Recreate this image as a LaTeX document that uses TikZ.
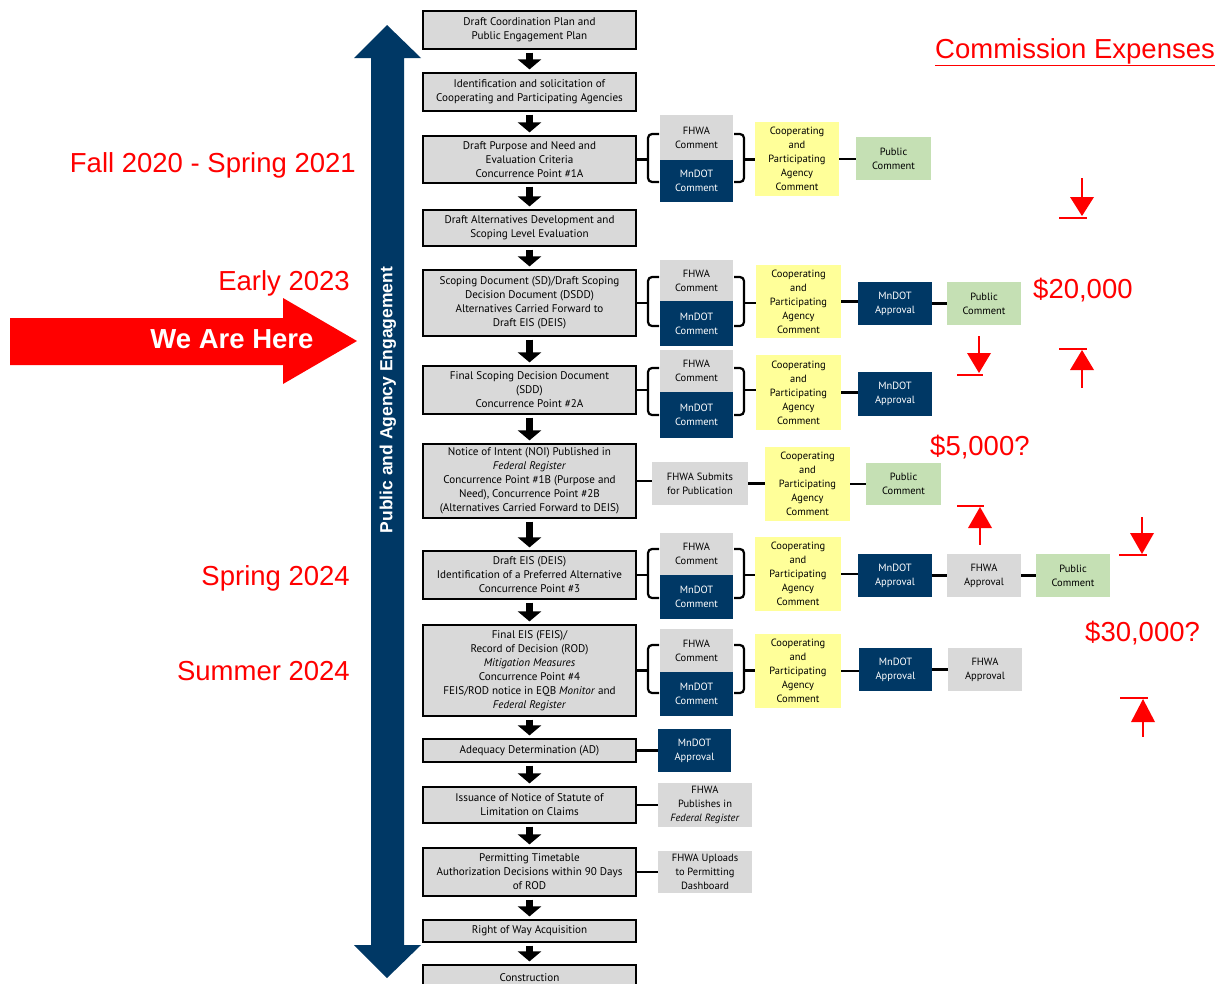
\documentclass[tikz,border=0pt]{standalone}
\usepackage{fontspec}
\setmainfont{Liberation Sans}
\newfontfamily\gfont{PT Sans}
\usetikzlibrary{arrows.meta}
\definecolor{navy}{HTML}{003865}
\definecolor{lgray}{HTML}{D9D9D9}
\definecolor{yel}{HTML}{FFFF99}
\definecolor{grn}{HTML}{C5E0B4}
\definecolor{mred}{HTML}{FF0000}
\newcommand{\rect}[7]{%
  \pgfmathsetmacro\rw{#5-#3}\pgfmathsetmacro\rh{#6-#4}%
  \pgfmathsetmacro\rx{(#3+#5)/2}\pgfmathsetmacro\ry{(#4+#6)/2}%
  \node[#1, minimum width=\rw pt, minimum height=\rh pt] (#2) at (\rx,\ry) {#7};}
\newcommand{\brackets}[2]{%
  \draw[brk] (659,#1) -- (648,#1) -- (648,#2) -- (659,#2);
  \draw[brk] (734,#1) -- (744,#1) -- (744,#2) -- (734,#2);}
\tikzset{
  boxfont/.style={font=\gfont\fontsize{10.5}{14}\selectfont},
  mainfont/.style={font=\gfont\fontsize{11.1}{14}\selectfont},
  mainbox/.style={draw=black, line width=1.2pt, fill=lgray, align=center, inner sep=0pt, mainfont},
  gbox/.style={fill=lgray, align=center, inner sep=0pt, boxfont},
  nbox/.style={fill=navy, text=white, align=center, inner sep=0pt, boxfont},
  ybox/.style={fill=yel, align=center, inner sep=0pt, boxfont},
  grbox/.style={fill=grn, align=center, inner sep=0pt, boxfont},
  conn/.style={line width=2.2pt, black},
  brk/.style={conn, rounded corners=4pt},
  darr/.style={line width=7pt, -{Triangle[width=23pt,length=10pt]}, shorten <=3pt, shorten >=3pt},
  redlab/.style={text=mred, font=\fontsize{27.5}{30}\selectfont, inner sep=0pt},
  redln/.style={mred, line width=1.8pt},
}
\begin{document}
\begin{tikzpicture}[x=1pt, y=-1pt]
\useasboundingbox (0,0) rectangle (1228,983);
\clip (0,0) rectangle (1228,983);
\fill[white] (0,0) rectangle (1228,983);

% big navy double arrow
\fill[navy] (371,58) -- (354,58) -- (387,25) -- (421,58) -- (404,58) -- (404,945) -- (421,945) -- (387,978) -- (354,945) -- (371,945) -- cycle;
\node[rotate=90, text=white, font=\bfseries\fontsize{17.5}{20}\selectfont, inner sep=0pt] (pae) at (388,400) {Public and Agency Engagement};

% We Are Here arrow
\fill[mred] (10,318) -- (283,318) -- (283,298) -- (357,341) -- (283,384) -- (283,365) -- (10,365) -- cycle;
\node[text=white, font=\bfseries\fontsize{27.5}{30}\selectfont, inner sep=0pt, anchor=base] (here) at (232,348) {We Are Here};

% dates
\node[redlab, anchor=base east] (d1) at (356,172) {Fall 2020 - Spring 2021};
\node[redlab, anchor=base east] (d2) at (350,290) {Early 2023};
\node[redlab, anchor=base east] (d3) at (350,585) {Spring 2024};
\node[redlab, anchor=base east] (d4) at (350,680) {Summer 2024};
\node[redlab, anchor=base west] (ce) at (935,58) {\underline{Commission Expenses}};
\node[redlab, anchor=base west] (c1) at (1033,298) {\$20,000};
\node[redlab, anchor=base west] (c2) at (930,455) {\$5,000?};
\node[redlab, anchor=base west] (c3) at (1085,641) {\$30,000?};

% main column
\rect{mainbox}{m1}{423}{11}{636}{49}{Draft Coordination Plan and\\Public Engagement Plan}
\rect{mainbox}{m2}{423}{73}{636}{111}{Identification and solicitation of\\Cooperating and Participating Agencies}
\rect{mainbox}{m3}{423}{136}{636}{183}{Draft Purpose and Need and\\Evaluation Criteria\\Concurrence Point \#1A}
\rect{mainbox}{m4}{423}{210}{636}{246}{Draft Alternatives Development and\\Scoping Level Evaluation}
\rect{mainbox}{m5}{423}{270}{636}{336}{Scoping Document (SD)/Draft Scoping\\Decision Document (DSDD)\\Alternatives Carried Forward to\\Draft EIS (DEIS)}
\rect{mainbox}{m6}{423}{366}{636}{414}{Final Scoping Decision Document\\(SDD)\\Concurrence Point \#2A}
\rect{mainbox}{m7}{423}{444}{636}{518}{Notice of Intent (NOI) Published in\\\textit{Federal Register}\\Concurrence Point \#1B (Purpose and\\Need), Concurrence Point \#2B\\(Alternatives Carried Forward to DEIS)}
\rect{mainbox}{m8}{423}{551}{636}{599}{Draft EIS (DEIS)\\Identification of a Preferred Alternative\\Concurrence Point \#3}
\rect{mainbox}{m9}{423}{625}{636}{716}{Final EIS (FEIS)/\\Record of Decision (ROD)\\\textit{Mitigation Measures}\\Concurrence Point \#4\\FEIS/ROD notice in EQB \textit{Monitor} and\\\textit{Federal Register}}
\rect{mainbox}{m10}{423}{739}{636}{762}{Adequacy Determination (AD)}
\rect{mainbox}{m11}{423}{787}{636}{823}{Issuance of Notice of Statute of\\Limitation on Claims}
\rect{mainbox}{m12}{423}{848}{636}{896}{Permitting Timetable\\Authorization Decisions within 90 Days\\of ROD}
\rect{mainbox}{m13}{423}{920}{636}{942}{Right of Way Acquisition}
\rect{mainbox}{m14}{423}{965}{636}{990}{Construction}
\foreach \a/\b in {m1/m2,m2/m3,m3/m4,m4/m5,m5/m6,m6/m7,m7/m8,m8/m9,m9/m10,m10/m11,m11/m12,m12/m13,m13/m14}
  \draw[darr] (\a.south) -- (\b.north);

\coordinate (bx) at (648,0);
\coordinate (by) at (744,0);

% Row A
\rect{gbox}{fA}{660}{115}{733}{160}{FHWA\\Comment}
\rect{nbox}{nA}{660}{160}{733}{202}{MnDOT\\Comment}
\rect{ybox}{yA}{755}{122}{839}{196}{Cooperating\\and\\Participating\\Agency\\Comment}
\rect{grbox}{pA}{856}{137}{931}{180}{Public\\Comment}
\brackets{134}{182}
\draw[conn] (m3.east) -- (m3.east -| bx);
\draw[conn] (m3.east -| by) -- (m3.east -| yA.west);
\draw[conn] (yA.east) -- (yA.east -| pA.west);

% Row B
\rect{gbox}{fB}{660}{260}{733}{301}{FHWA\\Comment}
\rect{nbox}{nB}{660}{301}{733}{346}{MnDOT\\Comment}
\rect{ybox}{yB}{756}{265}{841}{338}{Cooperating\\and\\Participating\\Agency\\Comment}
\rect{nbox}{aB}{858}{282}{932}{325}{MnDOT\\Approval}
\rect{grbox}{pB}{947}{282}{1021}{325}{Public\\Comment}
\brackets{277}{326}
\draw[conn] (m5.east) -- (m5.east -| bx);
\draw[conn] (m5.east -| by) -- (m5.east -| yB.west);
\draw[conn] (yB.east) -- (yB.east -| aB.west);
\draw[conn] (aB.east) -- (aB.east -| pB.west);

% Row C
\rect{gbox}{fC}{660}{350}{733}{392}{FHWA\\Comment}
\rect{nbox}{nC}{660}{392}{733}{438}{MnDOT\\Comment}
\rect{ybox}{yC}{756}{355}{841}{430}{Cooperating\\and\\Participating\\Agency\\Comment}
\rect{nbox}{aC}{858}{372}{932}{416}{MnDOT\\Approval}
\brackets{368}{415}
\draw[conn] (m6.east) -- (m6.east -| bx);
\draw[conn] (m6.east -| by) -- (m6.east -| yC.west);
\draw[conn] (yC.east) -- (yC.east -| aC.west);

% Row D
\rect{gbox}{sD}{652}{462}{748}{505}{FHWA Submits\\for Publication}
\rect{ybox}{yD}{765}{447}{850}{521}{Cooperating\\and\\Participating\\Agency\\Comment}
\rect{grbox}{pD}{866}{463}{941}{505}{Public\\Comment}
\draw[conn] (m7.east) -- (m7.east -| sD.west);
\draw[conn] (sD.east) -- (sD.east -| yD.west);
\draw[conn] (yD.east) -- (yD.east -| pD.west);

% Row E
\rect{gbox}{fE}{660}{533}{733}{575}{FHWA\\Comment}
\rect{nbox}{nE}{660}{575}{733}{619}{MnDOT\\Comment}
\rect{ybox}{yE}{755}{537}{841}{611}{Cooperating\\and\\Participating\\Agency\\Comment}
\rect{nbox}{aE}{858}{554}{932}{597}{MnDOT\\Approval}
\rect{gbox}{hE}{947}{554}{1021}{597}{FHWA\\Approval}
\rect{grbox}{pE}{1036}{554}{1110}{597}{Public\\Comment}
\brackets{549}{598}
\draw[conn] (m8.east) -- (m8.east -| bx);
\draw[conn] (m8.east -| by) -- (m8.east -| yE.west);
\draw[conn] (yE.east) -- (yE.east -| aE.west);
\draw[conn] (aE.east) -- (aE.east -| hE.west);
\draw[conn] (hE.east) -- (hE.east -| pE.west);

% Row F
\rect{gbox}{fF}{660}{629}{733}{672}{FHWA\\Comment}
\rect{nbox}{nF}{660}{672}{733}{716}{MnDOT\\Comment}
\rect{ybox}{yF}{755}{634}{841}{708}{Cooperating\\and\\Participating\\Agency\\Comment}
\rect{nbox}{aF}{859}{648}{932}{691}{MnDOT\\Approval}
\rect{gbox}{hF}{948}{648}{1022}{691}{FHWA\\Approval}
\brackets{645}{693}
\draw[conn] (m9.east) -- (m9.east -| bx);
\draw[conn] (m9.east -| by) -- (m9.east -| yF.west);
\draw[conn] (yF.east) -- (yF.east -| aF.west);
\draw[conn] (aF.east) -- (aF.east -| hF.west);

% Rows G, H, I
\rect{nbox}{aG}{658}{729}{731}{772}{MnDOT\\Approval}
\rect{gbox}{sH}{658}{783}{752}{827}{FHWA\\Publishes in\\\textit{Federal Register}}
\rect{gbox}{sI}{658}{851}{752}{893}{FHWA Uploads\\to Permitting\\Dashboard}
\draw[conn] (m10.east) -- (m10.east -| aG.west);
\draw[conn] (m11.east) -- (m11.east -| sH.west);
\draw[conn] (m12.east) -- (m12.east -| sI.west);

% red dimension arrows
\draw[redln] (1082,178) -- (1082,198);
\fill[mred] (1070,197) -- (1094,197) -- (1082,216) -- cycle;
\draw[redln] (1059,218) -- (1087,218);

\draw[redln] (1059,349) -- (1087,349);
\fill[mred] (1082,350) -- (1094,370) -- (1070,370) -- cycle;
\draw[redln] (1082,369) -- (1082,388);

\draw[redln] (979,336) -- (979,354);
\fill[mred] (967,353) -- (991,353) -- (979,373) -- cycle;
\draw[redln] (957,375) -- (983,375);

\draw[redln] (957,506) -- (984,506);
\fill[mred] (980,507) -- (992,528) -- (968,528) -- cycle;
\draw[redln] (980,527) -- (980,545);

\draw[redln] (1142,517) -- (1142,534);
\fill[mred] (1130,533) -- (1154,533) -- (1142,554) -- cycle;
\draw[redln] (1119,555) -- (1147,555);

\draw[redln] (1120,698) -- (1148,698);
\fill[mred] (1143,699) -- (1155,722) -- (1131,722) -- cycle;
\draw[redln] (1143,721) -- (1143,737);
\end{tikzpicture}
\end{document}
